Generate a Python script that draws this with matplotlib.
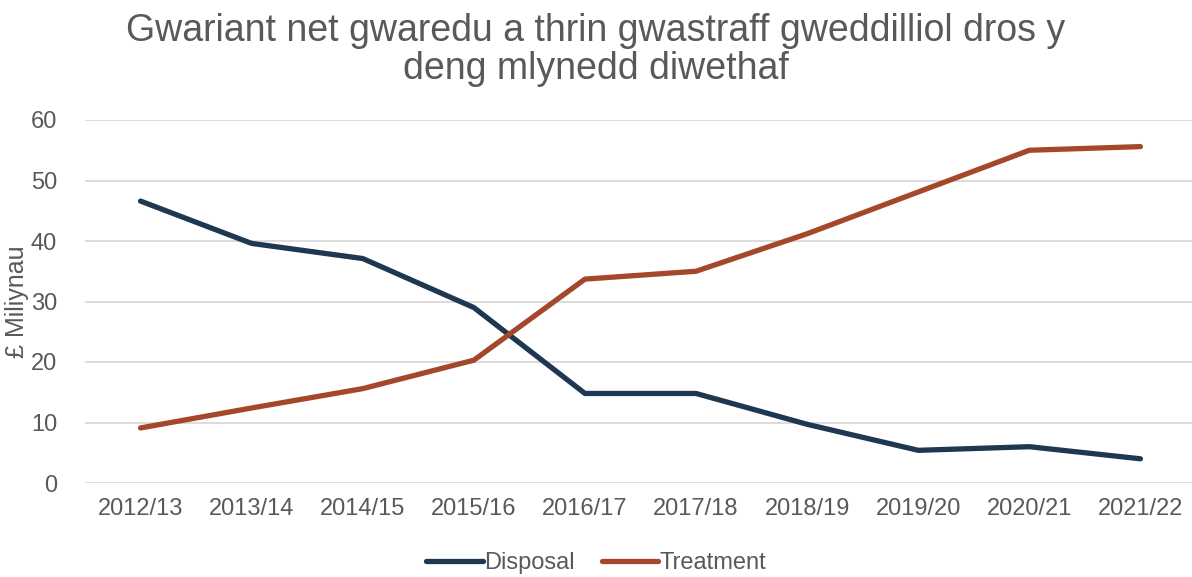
import matplotlib
matplotlib.use("Agg")
import matplotlib.pyplot as plt

years = ["2012/13", "2013/14", "2014/15", "2015/16", "2016/17",
         "2017/18", "2018/19", "2019/20", "2020/21", "2021/22"]
disposal = [46.6, 39.6, 37.1, 29.0, 14.8, 14.8, 9.7, 5.4, 6.0, 4.0]
treatment = [9.1, 12.4, 15.6, 20.3, 33.7, 35.0, 41.2, 48.1, 55.0, 55.6]

plt.rcParams["font.family"] = ["Liberation Sans", "DejaVu Sans"]
text_col = "#595959"

fig = plt.figure(figsize=(11.92, 5.77), dpi=100)
ax = fig.add_axes([85 / 1192, 1 - 483 / 577, (1196 - 85) / 1192, (483 - 120) / 577])

x = list(range(len(years)))
ax.plot(x, disposal, color="#1D3850", lw=3.8, solid_capstyle="round",
        solid_joinstyle="round", label="Disposal")
ax.plot(x, treatment, color="#A5472A", lw=3.8, solid_capstyle="round",
        solid_joinstyle="round", label="Treatment")

ax.set_xlim(-0.5, len(years) - 0.5)
ax.set_ylim(0, 60)
ax.set_yticks(range(0, 61, 10))
ax.set_xticks(x)
ax.set_xticklabels(years)
ax.tick_params(axis="both", length=0, labelsize=17, colors=text_col)
ax.tick_params(axis="x", pad=11)
ax.tick_params(axis="y", pad=20)
ax.grid(axis="y", color="#D9D9D9", lw=1.3)
ax.set_axisbelow(True)
for s in ax.spines.values():
    s.set_visible(False)

ax.set_ylabel("£ Miliynau", fontsize=18, color=text_col)
ax.yaxis.set_label_coords(-56 / 1111, 0.5)

fig.text(0.5, 1 - 50 / 577, "Gwariant net gwaredu a thrin gwastraff gweddilliol dros y\ndeng mlynedd diwethaf",
         ha="center", va="center", fontsize=27, color=text_col, linespacing=1.1)

leg = fig.legend(loc="center", bbox_to_anchor=(0.5, 1 - 563 / 577), ncol=2,
                 frameon=False, fontsize=17, handlelength=2.4, handletextpad=0.05,
                 columnspacing=1.15)
for t in leg.get_texts():
    t.set_color(text_col)

fig.savefig("out.png", dpi=100)
